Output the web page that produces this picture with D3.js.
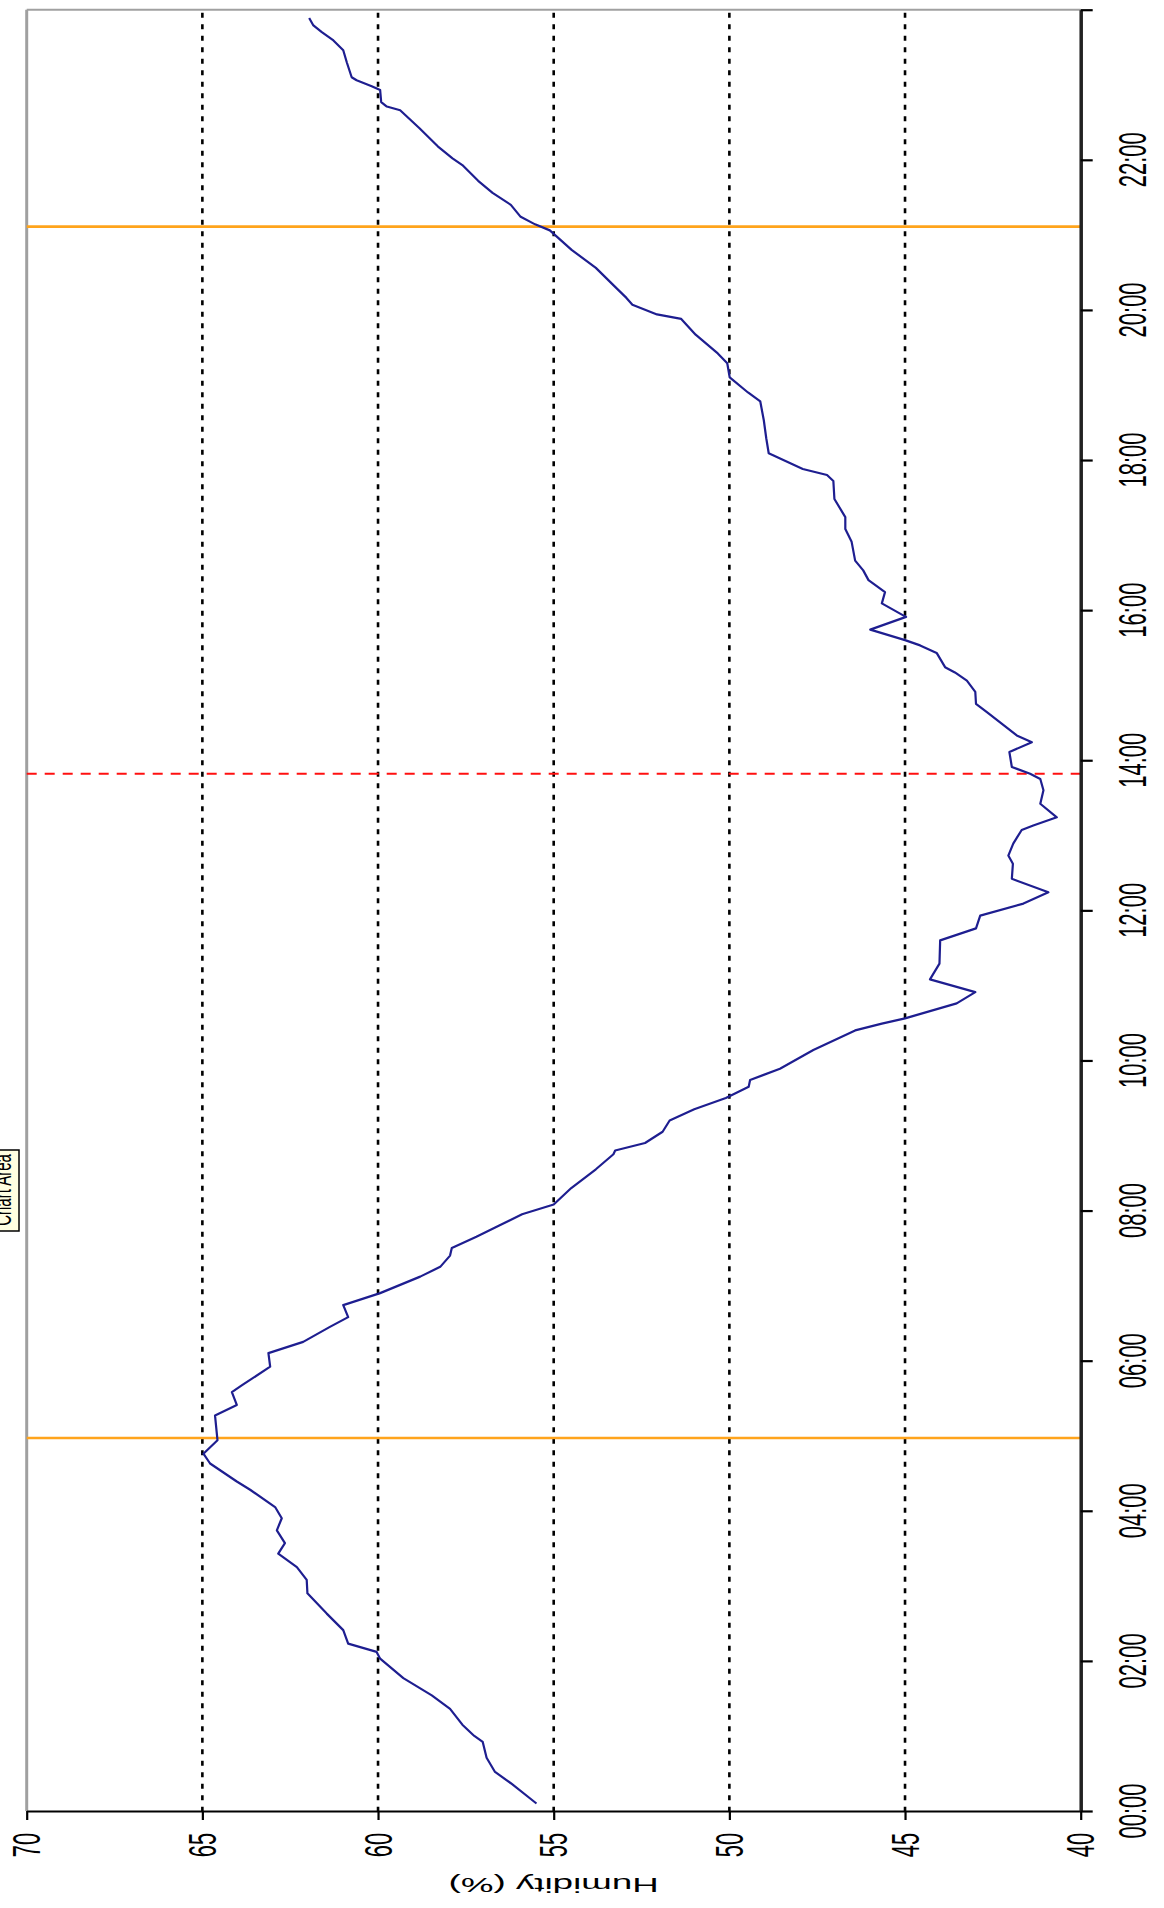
<!DOCTYPE html>
<html>
<head>
<meta charset="utf-8">
<script src="https://cdn.jsdelivr.net/npm/d3@7"></script>
<style>
  html, body { margin: 0; padding: 0; background: #ffffff; }
  svg { display: block; }
  text { font-family: "Liberation Sans", Arial, sans-serif; fill: #000; }
</style>
</head>
<body>
<svg id="chart" width="1164" height="1908"></svg>
<script>
// ---- data (time in decimal hours, humidity in %) ----
const timeHours = [
  0.10, 0.37, 0.52, 0.71, 0.92, 1.00, 1.15, 1.36, 1.54, 1.77,
  2.03, 2.12, 2.23, 2.41, 2.63, 2.90, 3.08, 3.25, 3.43, 3.57,
  3.74, 3.90, 4.05, 4.28, 4.39, 4.63, 4.76, 4.94, 5.27, 5.41,
  5.58, 5.67, 5.92, 6.10, 6.25, 6.45, 6.58, 6.74, 6.90, 7.12,
  7.25, 7.40, 7.50, 7.65, 7.80, 7.95, 8.08, 8.30, 8.55, 8.75,
  8.80, 8.90, 9.05, 9.20, 9.35, 9.50, 9.65, 9.74, 9.89, 10.14,
  10.40, 10.49, 10.56, 10.76, 10.91, 11.08, 11.29, 11.60, 11.76, 11.93,
  12.09, 12.24, 12.42, 12.62, 12.73, 12.89, 13.07, 13.13, 13.24, 13.42,
  13.60, 13.75, 13.82, 13.91, 14.11, 14.24, 14.33, 14.64, 14.75, 14.91,
  15.06, 15.17, 15.24, 15.43, 15.53, 15.60, 15.74, 15.91, 15.94, 16.09,
  16.24, 16.40, 16.53, 16.66, 16.91, 17.08, 17.24, 17.48, 17.72, 17.80,
  17.88, 18.09, 18.29, 18.53, 18.78, 18.90, 19.10, 19.29, 19.42, 19.67,
  19.88, 19.94, 20.07, 20.16, 20.32, 20.56, 20.80, 21.06, 21.14, 21.24,
  21.40, 21.56, 21.72, 21.93, 22.02, 22.18, 22.42, 22.66, 22.71, 22.77,
  22.93, 22.98, 23.06, 23.10, 23.30, 23.46, 23.59, 23.70, 23.79, 23.89
];
const humidity = [
  55.49, 56.22, 56.67, 56.91, 57.02, 57.26, 57.60, 57.95, 58.47, 59.28,
  59.94, 60.04, 60.85, 60.99, 61.46, 62.01, 62.03, 62.31, 62.84, 62.65,
  62.88, 62.74, 62.93, 63.64, 64.02, 64.78, 64.97, 64.57, 64.64, 64.02,
  64.16, 63.88, 63.07, 63.12, 62.13, 61.37, 60.85, 60.99, 59.94, 58.80,
  58.23, 57.95, 57.90, 57.20, 56.55, 55.90, 55.00, 54.50, 53.80, 53.30,
  53.25, 52.40, 51.90, 51.70, 51.00, 50.10, 49.45, 49.41, 48.56, 47.61,
  46.42, 45.66, 45.00, 43.53, 43.00, 44.29, 44.02, 44.00, 42.98, 42.86,
  41.63, 40.92, 41.96, 41.93, 42.06, 41.92, 41.68, 41.35, 40.68, 41.15,
  41.06, 41.15, 41.44, 41.96, 42.03, 41.39, 41.82, 42.67, 42.98, 43.00,
  43.24, 43.58, 43.86, 44.10, 44.57, 45.00, 45.99, 44.97, 45.09, 45.66,
  45.57, 46.04, 46.19, 46.42, 46.52, 46.70, 46.70, 47.01, 47.04, 47.22,
  47.91, 48.88, 48.95, 49.02, 49.12, 49.47, 49.99, 50.06, 50.33, 50.96,
  51.37, 52.06, 52.76, 52.93, 53.28, 53.80, 54.49, 55.11, 55.53, 55.94,
  56.22, 56.74, 57.15, 57.60, 57.88, 58.30, 58.82, 59.37, 59.75, 59.91,
  59.94, 60.18, 60.61, 60.75, 60.89, 60.99, 61.27, 61.60, 61.84, 61.96
];
const humidityTicks = [70, 65, 60, 55, 50, 45, 40];
const humidityGrid = [65, 60, 55, 50, 45];
const timeTicks = [0, 2, 4, 6, 8, 10, 12, 14, 16, 18, 20, 22, 24];
const timeTickLabels = ["00:00","02:00","04:00","06:00","08:00","10:00","12:00","14:00","16:00","18:00","20:00","22:00",""];
const markerOrange = [4.97, 21.11];
const markerRed = [13.82];
const axisTitle = "Humidity (%)";
const tooltipText = "Chart Area";

(function () {
  const svg = d3.select("#chart");
  const pLeft = 26.7, pRight = 1080.7, pTop = 9.7, pBottom = 1811;
  const SX = 1.75; // horizontal stretch of glyphs in the picture

  const x = d3.scaleLinear().domain([70, 40]).range([pLeft, pRight]);
  const y = d3.scaleLinear().domain([0, 24]).range([pBottom, pTop]);

  // plot borders (top & left, grey)
  svg.append("line").attr("x1", pLeft).attr("x2", pRight).attr("y1", pTop).attr("y2", pTop)
    .attr("stroke", "#a0a0a0").attr("stroke-width", 2);
  svg.append("line").attr("x1", pLeft).attr("x2", pLeft).attr("y1", pTop).attr("y2", pBottom)
    .attr("stroke", "#a0a0a0").attr("stroke-width", 3);

  // dotted grid
  svg.append("g").selectAll("line").data(humidityGrid).join("line")
    .attr("x1", d => x(d)).attr("x2", d => x(d))
    .attr("y1", pTop + 3).attr("y2", pBottom)
    .attr("stroke", "#000").attr("stroke-width", 2.6)
    .attr("stroke-dasharray", "5,6.5");

  // orange marker lines
  svg.append("g").selectAll("line").data(markerOrange).join("line")
    .attr("x1", pLeft).attr("x2", pRight)
    .attr("y1", d => y(d)).attr("y2", d => y(d))
    .attr("stroke", "#ffa41c").attr("stroke-width", 2.6);

  // red dashed marker
  svg.append("g").selectAll("line").data(markerRed).join("line")
    .attr("x1", pLeft).attr("x2", pRight)
    .attr("y1", d => y(d)).attr("y2", d => y(d))
    .attr("stroke", "#ff1010").attr("stroke-width", 2)
    .attr("stroke-dasharray", "10,8");

  // humidity line
  const pts = timeHours.map((t, i) => [t, humidity[i]]);
  const line = d3.line().x(d => x(d[1])).y(d => y(d[0]));
  svg.append("path").datum(pts)
    .attr("d", line)
    .attr("fill", "none")
    .attr("stroke", "#1e1e90")
    .attr("stroke-width", 2.2)
    .attr("stroke-linejoin", "round");

  // bottom (humidity) axis
  const gx = svg.append("g").attr("transform", `translate(0,${pBottom})`)
    .call(d3.axisBottom(x).tickValues(humidityTicks).tickSize(9).tickSizeOuter(0).tickFormat(""));
  gx.select(".domain").attr("stroke", "#000").attr("stroke-width", 2.2);
  gx.selectAll(".tick line").attr("stroke", "#000").attr("stroke-width", 2.2);

  // right (time) axis
  const gy = svg.append("g").attr("transform", `translate(${pRight},0)`)
    .call(d3.axisRight(y).tickValues(timeTicks).tickSize(12).tickSizeOuter(0).tickFormat(""));
  gy.select(".domain").attr("stroke", "#222").attr("stroke-width", 3.5);
  gy.selectAll(".tick line").attr("stroke", "#000").attr("stroke-width", 2.2);

  // humidity tick labels (rotated -90, stretched)
  svg.append("g").selectAll("text").data(humidityTicks).join("text")
    .attr("transform", d => `translate(${x(d)},1845) scale(${SX},1) rotate(-90)`)
    .attr("text-anchor", "middle").attr("dy", "0.35em")
    .style("font-size", "22px")
    .text(d => d);

  // time tick labels
  svg.append("g").selectAll("text").data(timeTicks).join("text")
    .attr("transform", d => `translate(1133,${y(d)}) scale(${SX},1) rotate(-90)`)
    .attr("text-anchor", "middle").attr("dy", "0.35em")
    .style("font-size", "22px")
    .text((d, i) => timeTickLabels[i]);

  // axis title (upside down)
  svg.append("text")
    .attr("transform", `translate(${x(55)},1885) scale(${SX},1) rotate(180)`)
    .attr("text-anchor", "middle").attr("dy", "0.35em")
    .style("font-size", "21px")
    .text(axisTitle);

  // "Chart Area" tooltip at left edge
  const tip = svg.append("g");
  tip.append("rect").attr("x", -16).attr("y", 1150).attr("width", 35).attr("height", 81)
    .attr("fill", "#ffffe1").attr("stroke", "#000").attr("stroke-width", 1.5);
  tip.append("text")
    .attr("transform", `translate(2,1190) scale(${SX},1) rotate(-90)`)
    .attr("text-anchor", "middle").attr("dy", "0.35em")
    .style("font-size", "15px")
    .text(tooltipText);
})();
</script>
</body>
</html>
